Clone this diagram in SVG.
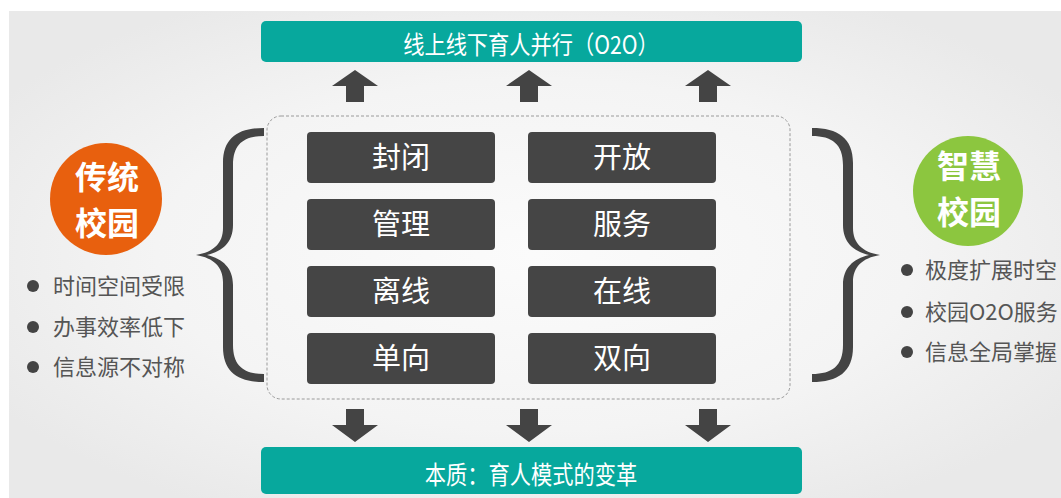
<svg xmlns="http://www.w3.org/2000/svg" width="1061" height="498" viewBox="0 0 1061 498">
<defs>
<radialGradient id="bg" cx="0.5" cy="0.5" r="0.6">
<stop offset="0" stop-color="#fbfbfb"/>
<stop offset="0.6" stop-color="#f4f4f4"/>
<stop offset="1" stop-color="#e9e9e9"/>
</radialGradient>
<path id="brace" d="M264,128 C238,128 223,138 223,163 L223,228 C223,243 214,252 196,255 C214,258 223,267 223,282 L223,347 C223,372 238,382 264,382 L264,374 C244,374 233,366 233,345 L233,285 C233,268 223,259 207,255 C223,251 233,242 233,225 L233,165 C233,144 244,136 264,136 Z"/>
<path id="up" d="M0,0 L23,16 L9,16 L9,32 L-9,32 L-9,16 L-23,16 Z"/>
<path id="down" d="M0,0 L23,-17 L9,-17 L9,-33 L-9,-33 L-9,-17 L-23,-17 Z"/>
</defs>
<style>
.cjk{font-family:"Noto Sans CJK SC","Noto Sans",sans-serif;}
.teal{fill:#07a89d;}
.box{fill:#454545;}
.boxt{fill:#ffffff;font-size:29px;text-anchor:middle;}
.bul{fill:#555555;font-size:22px;}
.dot{fill:#444444;}
.dark{fill:#444444;}
.circt{fill:#ffffff;font-size:32px;font-weight:bold;text-anchor:middle;}
</style>
<rect x="0" y="0" width="1061" height="498" fill="#ffffff"/>
<rect x="9" y="11" width="1052" height="487" fill="url(#bg)"/>

<g id="top-box">
<rect class="teal" x="261" y="21" width="541" height="41" rx="5"/>
<text class="cjk" transform="translate(531,54) scale(0.85,1)" font-size="25" fill="#ffffff" text-anchor="middle">线上线下育人并行（O2O）</text>
</g>

<g id="bottom-box">
<rect class="teal" x="261" y="447" width="541" height="47" rx="5"/>
<text class="cjk" transform="translate(531,484) scale(0.85,1)" font-size="25" fill="#ffffff" text-anchor="middle">本质：育人模式的变革</text>
</g>

<g id="container">
<rect x="267" y="116" width="523" height="283" rx="14" fill="none" stroke="#9a9a9a" stroke-width="1" stroke-dasharray="3,2"/>
</g>

<g id="n-fengbi"><rect class="box" x="307" y="132" width="188" height="51" rx="4"/><text class="cjk boxt" x="401" y="168">封闭</text></g>
<g id="n-kaifang"><rect class="box" x="528" y="132" width="188" height="51" rx="4"/><text class="cjk boxt" x="622" y="168">开放</text></g>
<g id="n-guanli"><rect class="box" x="307" y="199" width="188" height="51" rx="4"/><text class="cjk boxt" x="401" y="235">管理</text></g>
<g id="n-fuwu"><rect class="box" x="528" y="199" width="188" height="51" rx="4"/><text class="cjk boxt" x="622" y="235">服务</text></g>
<g id="n-lixian"><rect class="box" x="307" y="266" width="188" height="51" rx="4"/><text class="cjk boxt" x="401" y="302">离线</text></g>
<g id="n-zaixian"><rect class="box" x="528" y="266" width="188" height="51" rx="4"/><text class="cjk boxt" x="622" y="302">在线</text></g>
<g id="n-danxiang"><rect class="box" x="307" y="333" width="188" height="51" rx="4"/><text class="cjk boxt" x="401" y="369">单向</text></g>
<g id="n-shuangxiang"><rect class="box" x="528" y="333" width="188" height="51" rx="4"/><text class="cjk boxt" x="622" y="369">双向</text></g>

<g id="traditional">
<circle cx="106" cy="199" r="56" fill="#e8600e"/>
<text class="cjk circt" x="107" y="189">传统</text>
<text class="cjk circt" x="107" y="235">校园</text>
<circle class="dot" cx="33" cy="286" r="6"/>
<circle class="dot" cx="33" cy="327" r="6"/>
<circle class="dot" cx="33" cy="367" r="6"/>
<text class="cjk bul" x="53" y="294">时间空间受限</text>
<text class="cjk bul" x="53" y="335">办事效率低下</text>
<text class="cjk bul" x="53" y="375">信息源不对称</text>
</g>

<g id="smart">
<circle cx="968" cy="191" r="55" fill="#8cc63f"/>
<text class="cjk circt" x="969" y="178">智慧</text>
<text class="cjk circt" x="969" y="224">校园</text>
<circle class="dot" cx="907" cy="270" r="6"/>
<circle class="dot" cx="907" cy="312" r="6"/>
<circle class="dot" cx="907" cy="352" r="6"/>
<text class="cjk bul" x="925" y="278">极度扩展时空</text>
<text class="cjk bul" x="925" y="320">校园O2O服务</text>
<text class="cjk bul" x="925" y="360">信息全局掌握</text>
</g>

<g id="connectors">
<use href="#brace" class="dark"/>
<use href="#brace" class="dark" transform="translate(1076,0) scale(-1,1)"/>
<use href="#up" class="dark" x="355" y="70"/>
<use href="#up" class="dark" x="529" y="70"/>
<use href="#up" class="dark" x="708" y="70"/>
<use href="#down" class="dark" x="355" y="442"/>
<use href="#down" class="dark" x="529" y="442"/>
<use href="#down" class="dark" x="708" y="442"/>
</g>
</svg>
